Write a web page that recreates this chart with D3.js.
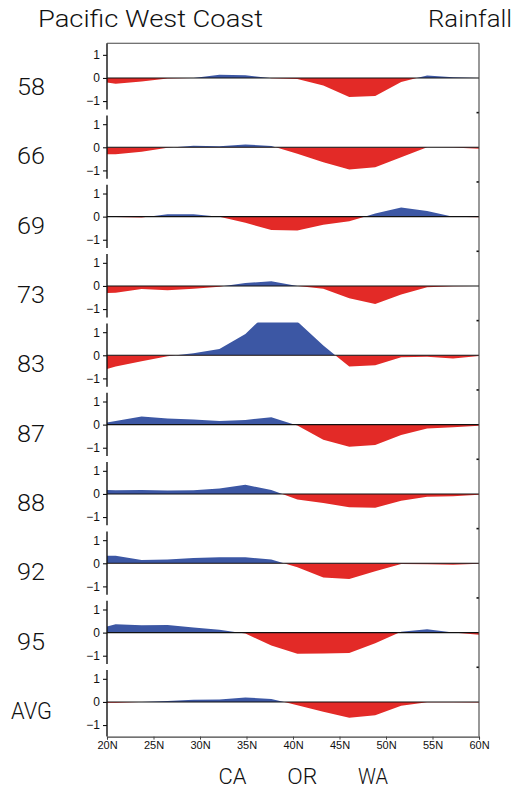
<!DOCTYPE html>
<html>
<head>
<meta charset="utf-8">
<script src="https://cdn.jsdelivr.net/npm/d3@7"></script>
<style>
  html, body { margin: 0; padding: 0; background: #fff; }
  svg { display: block; }
  text { font-family: "Roboto", "Liberation Sans", sans-serif; font-weight: 300; fill: #111; }
</style>
</head>
<body>
<svg id="chart" width="515" height="790"></svg>
<script>
// Latitudes of the data grid (degrees N)
const lats = [18.14, 20.93, 23.72, 26.51, 29.30, 32.09, 34.88, 37.67, 40.47, 43.26, 46.05, 48.84, 51.63, 54.42, 57.21, 60.00];

// Panel labels (years) top to bottom
const panelLabels = ["58", "66", "69", "73", "83", "87", "88", "92", "95", "AVG"];

// Rainfall anomaly series, one per panel
const s58  = [-0.10, -0.25, -0.15, -0.02, 0.00, 0.14, 0.12, -0.01, -0.05, -0.33, -0.82, -0.78, -0.17, 0.11, 0.03, 0.00];
const s66  = [-0.30, -0.30, -0.19, -0.02, 0.07, 0.05, 0.12, 0.06, -0.28, -0.65, -0.96, -0.86, -0.43, 0.00, -0.01, -0.06];
const s69  = [0.00, -0.02, -0.04, 0.10, 0.10, 0.00, -0.27, -0.58, -0.60, -0.35, -0.20, 0.13, 0.39, 0.24, 0.00, -0.03];
const s73  = [-0.32, -0.29, -0.13, -0.19, -0.12, -0.03, 0.13, 0.20, 0.00, -0.12, -0.53, -0.78, -0.37, -0.06, -0.01, 0.00];
const s83  = [-0.79, -0.49, -0.26, -0.04, 0.09, 0.27, 0.92, 2.00, 1.46, 0.42, -0.49, -0.43, -0.09, -0.06, -0.14, -0.03];
const s87  = [-0.05, 0.16, 0.35, 0.27, 0.22, 0.16, 0.20, 0.32, -0.04, -0.66, -0.96, -0.88, -0.45, -0.17, -0.11, -0.05];
const s88  = [0.19, 0.16, 0.17, 0.15, 0.16, 0.24, 0.40, 0.17, -0.24, -0.39, -0.58, -0.60, -0.29, -0.12, -0.10, -0.04];
const s92  = [0.33, 0.33, 0.14, 0.16, 0.23, 0.26, 0.26, 0.16, -0.17, -0.62, -0.68, -0.35, -0.03, -0.04, -0.06, -0.02];
const s95  = [0.06, 0.36, 0.32, 0.33, 0.22, 0.12, -0.04, -0.56, -0.92, -0.90, -0.88, -0.46, 0.04, 0.14, 0.00, -0.09];
const sAvg = [-0.06, -0.03, 0.00, 0.04, 0.09, 0.10, 0.19, 0.13, -0.14, -0.42, -0.68, -0.58, -0.16, -0.01, -0.01, -0.02];
const series = [s58, s66, s69, s73, s83, s87, s88, s92, s95, sAvg];

// Axis tick values / labels
const xTicks = [20, 25, 30, 35, 40, 45, 50, 55, 60];
const yTicks = [-1, 0, 1];
const title = "Pacific West Coast";
const titleRight = "Rainfall";
const stateLabels = [{ t: "CA", lat: 33.5 }, { t: "OR", lat: 41.0 }, { t: "WA", lat: 48.6 }];

// ---- layout ----
const svg = d3.select("#chart");
const left = 107, right = 479, top0 = 43.3, panelH = 69.33;
const nP = series.length;
const bottom = top0 + nP * panelH;
const RED = "#e32a27", BLUE = "#3c57a4";

const x = d3.scaleLinear().domain([20, 60]).range([left, right]);
const defs = svg.append("defs");

series.forEach((vals, i) => {
  const pTop = top0 + i * panelH;
  const y = d3.scaleLinear().domain([-1.5, 1.5]).range([pTop + panelH, pTop]);
  const g = svg.append("g");
  const capTop = i === 0 ? 1.5 : 1.42;
  const capBot = i === nP - 1 ? -1.5 : -1.42;

  defs.append("clipPath").attr("id", "cpPos" + i).append("rect")
    .attr("x", x(20)).attr("width", x(60) - x(20))
    .attr("y", y(capTop)).attr("height", y(0) - y(capTop));
  defs.append("clipPath").attr("id", "cpNeg" + i).append("rect")
    .attr("x", x(20)).attr("width", x(60) - x(20))
    .attr("y", y(0)).attr("height", y(capBot) - y(0));

  const area = d3.area()
    .x((d, j) => x(lats[j]))
    .y0(y(0))
    .y1(d => y(d));

  g.append("path").datum(vals).attr("d", area)
    .attr("fill", BLUE).attr("clip-path", "url(#cpPos" + i + ")");
  g.append("path").datum(vals).attr("d", area)
    .attr("fill", RED).attr("clip-path", "url(#cpNeg" + i + ")");

  // zero line
  g.append("line").attr("x1", x(20)).attr("x2", x(60))
    .attr("y1", y(0)).attr("y2", y(0))
    .attr("stroke", "#111").attr("stroke-width", 1.1);

  // left axis
  const ax = d3.axisLeft(y).tickValues(yTicks).tickSize(4).tickPadding(3)
    .tickFormat(d => d < 0 ? "\u2212" + Math.abs(d) : String(d));
  const axG = g.append("g").attr("transform", `translate(${left},0)`).call(ax);
  axG.select(".domain").remove();
  axG.selectAll(".tick line").attr("stroke", "#111").attr("stroke-width", 1.1);
  axG.selectAll(".tick text").attr("font-size", 12).attr("fill", "#111")
    .style("font-family", "'Liberation Sans', Arial, sans-serif").style("font-weight", 400);
  const lTop = i === 0 ? 1.5 : 1.38;
  const lBot = i === nP - 1 ? -1.5 : -1.36;
  g.append("line").attr("x1", left).attr("x2", left)
    .attr("y1", y(lTop)).attr("y2", y(lBot))
    .attr("stroke", "#111").attr("stroke-width", 1.4);

  // right-side small tick at panel boundary
  if (i > 0) {
    g.append("line").attr("x1", right - 2.5).attr("x2", right)
      .attr("y1", pTop).attr("y2", pTop)
      .attr("stroke", "#111").attr("stroke-width", 1.6);
  }

  // panel label
  const lab = g.append("text").attr("x", i === nP - 1 ? 11 : 17).attr("y", y(0) + 17)
    .attr("font-size", 23).text(panelLabels[i]);
  lab.attr("textLength", i === nP - 1 ? 41 : 28).attr("lengthAdjust", "spacingAndGlyphs");
});

// frame: top line, right line
svg.append("line").attr("x1", left).attr("x2", right).attr("y1", top0).attr("y2", top0)
  .attr("stroke", "#444").attr("stroke-width", 1.1);
svg.append("line").attr("x1", right).attr("x2", right).attr("y1", top0).attr("y2", bottom)
  .attr("stroke", "#444").attr("stroke-width", 1.1);

// bottom axis
const xAx = d3.axisBottom(x).tickValues(xTicks).tickSize(3).tickPadding(2).tickFormat(d => d + "N");
const xG = svg.append("g").attr("transform", `translate(0,${bottom})`).call(xAx);
xG.select(".domain").attr("stroke", "#444").attr("stroke-width", 1.1);
xG.selectAll(".tick line").attr("stroke", "#444");
xG.selectAll(".tick text").attr("font-size", 11).attr("fill", "#111")
  .style("font-family", "'Liberation Sans', Arial, sans-serif").style("font-weight", 400);

// titles
svg.append("text").attr("x", 38).attr("y", 27).attr("font-size", 23)
  .attr("textLength", 225).attr("lengthAdjust", "spacingAndGlyphs").text(title);
svg.append("text").attr("x", 428).attr("y", 27).attr("font-size", 23)
  .attr("textLength", 84).attr("lengthAdjust", "spacingAndGlyphs").text(titleRight);

// state labels
stateLabels.forEach(s => {
  svg.append("text").attr("x", x(s.lat)).attr("y", 784).attr("font-size", 22)
    .attr("text-anchor", "middle")
    .attr("textLength", s.t === "CA" ? 28 : 30).attr("lengthAdjust", "spacingAndGlyphs")
    .text(s.t);
});
</script>
</body>
</html>
